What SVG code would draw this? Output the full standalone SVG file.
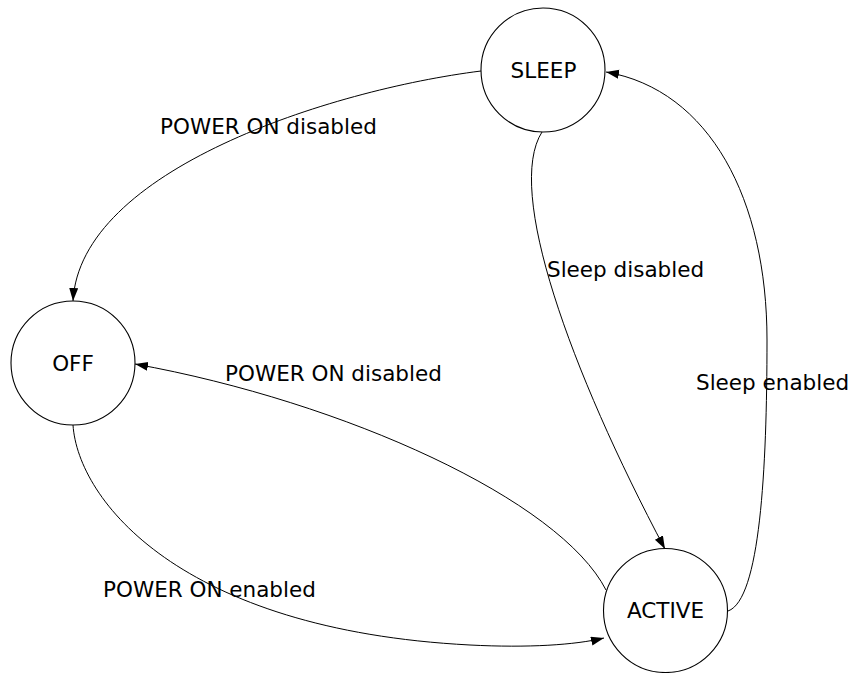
<svg xmlns="http://www.w3.org/2000/svg" width="851" height="673" viewBox="0 0 851 673">
<style>
.node{fill:#fff;stroke:#000;stroke-width:1.1}
.lbl{font-family:"DejaVu Sans",Verdana,sans-serif;font-size:21.5px;fill:#000}
.nt{font-family:"DejaVu Sans",Verdana,sans-serif;font-size:21.5px;fill:#000;text-anchor:middle}
.edge{fill:none;stroke:#000;stroke-width:1;marker-end:url(#arr)}
</style>
<defs>
<marker id="arr" markerUnits="userSpaceOnUse" markerWidth="14" markerHeight="10" refX="13" refY="4.5" orient="auto">
<path d="M0,0 L13,4.5 L0,9 z" fill="#000"/>
</marker>
</defs>
<rect width="851" height="673" fill="#fff"/>
<g id="connectors">
<path class="edge" d="M481,71 C330,90 80,170 73,301"/>
<path class="edge" d="M542,132 C505,190 570,370 665,549"/>
<path class="edge" d="M728,611 C760,600 767,470 767,340 C767,200 710,90 606,72"/>
<path class="edge" d="M606,590 C560,500 345,402 135,364"/>
<path class="edge" d="M73,425 C78,500 180,630 470,645 C528,648 575,645 604,638"/>
</g>
<g id="labels">
<text class="lbl" x="160" y="134">POWER ON disabled</text>
<text class="lbl" x="225" y="381">POWER ON disabled</text>
<text class="lbl" x="547" y="277">Sleep disabled</text>
<text class="lbl" x="696" y="390">Sleep enabled</text>
<text class="lbl" x="103" y="597">POWER ON enabled</text>
</g>
<g id="node-sleep">
<circle class="node" cx="543" cy="70" r="62"/>
<text class="nt" x="543.5" y="77.5">SLEEP</text>
</g>
<g id="node-off">
<circle class="node" cx="73" cy="363" r="62"/>
<text class="nt" x="73" y="370.5">OFF</text>
</g>
<g id="node-active">
<circle class="node" cx="665.5" cy="610.5" r="62"/>
<text class="nt" x="665.5" y="618">ACTIVE</text>
</g>
</svg>
